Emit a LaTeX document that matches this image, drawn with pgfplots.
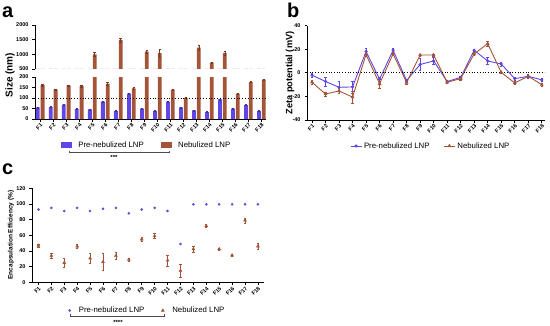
\documentclass[border=0pt]{standalone}
\usepackage{fontspec}
\setmainfont{Liberation Sans}
\usepackage{pgfplots}
\usepackage{pgfplotstable}
\pgfplotsset{compat=1.18}
\definecolor{pre}{RGB}{95,70,230}
\definecolor{neb}{RGB}{165,85,55}

\pgfplotstableread{
x pre pe neb ne
0 55 3 161 4
1 57 3 140 4
2 68 3 159 4
3 47 2 156 4
4 46 2 1000 70
5 83 3 167 6
6 39 2 1490 70
7 121 3 146 3
8 49 2 1090 50
9 39 2 1040 130
10 83 3 140 4
11 55 2 101 2
12 41 2 1230 80
13 33 2 715 30
14 93 3 1040 60
15 50 2 121 3
16 66 2 176 3
17 39 2 187 3
}\sizedata

\pgfplotstableread{
x pre pe neb ne
0 -2 1.5 -8 2
1 -7.4 4 -18 1.5
2 -12.3 5 -15.4 2
3 -12 5 -20.6 5
4 18 2.5 15.4 1.5
5 -5.4 1.5 -9.4 4
6 19 1.5 16 1.5
7 -6.6 1 -8.3 1.5
8 7 5 15 1
9 10 3 15 1
10 -7.4 1 -8 1
11 -4 1 -5 1
12 19 1 16 1
13 10 3 24.6 2
14 7.4 1.5 0.3 1
15 -5 1 -8.6 1
16 -3 2 -3 1
17 -6 1 -10 1.5
}\zetadata

\pgfplotstableread{
x pre neb ne
0 93 47 2
1 95 34 3
2 91 25 6
3 95 46 3
4 91 30.6 6
5 94 26 11
6 95 34 4
7 88 29 2
8 93 55 3
9 95 59 3
10 91 28 7
11 49 15 8
12 99.5 42.5 4
13 99.5 72 1.5
14 99.5 42.5 1.5
15 99.5 34.5 1.5
16 99.5 79 3
17 99.5 46 4
}\eedata

\pgfplotsset{
  gp/.style={
    scale only axis,
    anchor=south west,
    axis line style={black, line width=0.8pt},
    tick style={black, line width=0.7pt},
    tick align=outside,
    major tick length=2.5pt,
    /pgf/number format/assume math mode=true,
    /pgf/number format/1000 sep={},
    ticklabel style={font=\fontsize{5.5}{6}\selectfont\bfseries},
    yticklabel style={xshift=-0.5pt},
    xtick={0,...,17},
    xticklabels={F1,F2,F3,F4,F5,F6,F7,F8,F9,F10,F11,F12,F13,F14,F15,F16,F17,F18},
    xticklabel style={rotate=45, anchor=north east, inner sep=0.8pt},
    legend style={draw=none, fill=none, legend columns=2,
      font=\fontsize{7.8}{9}\selectfont},
    legend cell align=left,
  },
  ebar/.style={error bars/y dir=both, error bars/y explicit,
     error bars/error bar style={line width=0.5pt, #1},
     error bars/error mark options={rotate=90, mark size=1.2pt, line width=0.5pt, #1}},
  shortline/.style={legend image code/.code={\draw[mark repeat=2,mark phase=2,##1] plot coordinates {(0pt,0pt) (5.5pt,0pt) (11pt,0pt)};}},
  prebox/.style={legend image code/.code={\fill[pre] (0pt,-2.5pt) rectangle (10pt,2.5pt); \path (15pt,0pt);}},
  nebbox/.style={legend image code/.code={\fill[neb] (0pt,-2.5pt) rectangle (10pt,2.5pt); \path (15pt,0pt);}},
}

\begin{document}
\begin{tikzpicture}
\useasboundingbox (0,0) rectangle (550pt,325pt);

% ---------- panel a ----------
\node[font=\fontsize{20}{20}\selectfont\bfseries, anchor=base west, inner sep=0pt] at (2pt,308pt) {a};
% upper segment
\begin{axis}[gp, at={(35pt,256pt)}, width=231pt, height=44pt,
  xmin=-0.4, xmax=17.35, ymin=500, ymax=2000,
  ytick={500,1000,1500,2000},
  axis x line=none, axis y line*=left,
  ybar, bar width=3.8pt]
\addplot[forget plot, ybar, bar shift=-2.4pt, fill=pre, draw=none] table[x=x,y=pre] {\sizedata};
\addplot[forget plot, ybar, bar shift=2.4pt, fill=neb, draw=none, ebar=neb!70!black] table[x=x,y=neb,y error=ne] {\sizedata};
\end{axis}
% lower segment
\begin{axis}[gp, at={(35pt,206pt)}, width=231pt, height=42pt,
  xmin=-0.4, xmax=17.35, ymin=0, ymax=200,
  ytick={0,50,100,150,200},
  axis x line*=bottom, axis y line*=left,
  ybar, bar width=3.8pt,
  legend style={at={(0.483,-0.62)}, anchor=center,
    /tikz/every even column/.append style={column sep=15pt}}]
\addplot[forget plot, ybar, bar shift=-2.4pt, fill=pre, draw=none, ebar=pre!70!black] table[x=x,y=pre,y error=pe] {\sizedata};
\addplot[forget plot, ybar, bar shift=2.4pt, fill=neb, draw=none, ebar=neb!70!black] table[x=x,y=neb,y error=ne] {\sizedata};
\addplot[forget plot, black, dotted, line width=0.8pt, sharp plot] coordinates {(-0.4,100) (17.35,100)};
\addlegendimage{prebox}
\addlegendimage{nebbox}
\legend{Pre-nebulized LNP, Nebulized LNP}
\end{axis}
\node[rotate=90, font=\fontsize{10}{10}\selectfont\bfseries] at (10pt,250pt) {Size (nm)};
\draw[line width=0.5pt, black!70] (69pt,174.5pt) -- (69pt,172.3pt) -- (169pt,172.3pt) -- (169pt,174.5pt);
\node[font=\fontsize{6}{6}\selectfont\bfseries, inner sep=0pt] at (114pt,168pt) {***};

% ---------- panel b ----------
\node[font=\fontsize{20}{20}\selectfont\bfseries, anchor=base west, inner sep=0pt] at (287pt,308pt) {b};
\begin{axis}[gp, at={(307pt,205pt)}, width=238pt, height=94.5pt,
  xmin=-0.37, xmax=17.24, ymin=-40, ymax=40,
  ytick={-40,-20,0,20,40},
  axis x line*=bottom, axis y line*=left,
  legend style={at={(0.52,-0.275)}, anchor=center,
    /tikz/every even column/.append style={column sep=12pt}}]
\addplot[forget plot, pre, line width=0.9pt, mark=*, mark size=1.1pt, ebar=pre] table[x=x,y=pre,y error=pe] {\zetadata};
\addplot[forget plot, neb, line width=0.9pt, mark=triangle*, mark size=1.4pt, ebar=neb] table[x=x,y=neb,y error=ne] {\zetadata};
\addplot[forget plot, black, dotted, line width=0.7pt] coordinates {(-0.37,0) (17.24,0)};
\addlegendimage{pre, line width=0.9pt, mark=*, mark size=1.1pt, shortline}
\addlegendimage{neb, line width=0.9pt, mark=triangle*, mark size=1.4pt, shortline}
\legend{Pre-nebulized LNP, Nebulized LNP}
\end{axis}
\node[rotate=90, font=\fontsize{9.2}{9.2}\selectfont\bfseries] at (290pt,252pt) {Zeta potential (mV)};

% ---------- panel c ----------
\node[font=\fontsize{20}{20}\selectfont\bfseries, anchor=base west, inner sep=0pt] at (2pt,151pt) {c};
\begin{axis}[gp, at={(32pt,42.7pt)}, width=232pt, height=94pt,
  xmin=-0.5, xmax=17.47, ymin=0, ymax=120,
  ytick={0,20,40,60,80,100,120},
  axis x line*=bottom, axis y line*=left,
  legend style={at={(0.498,-0.30)}, anchor=center,
    /tikz/every odd column/.append style={column sep=6pt},
    /tikz/every even column/.append style={column sep=15pt}}]
\addplot[forget plot, pre, only marks, mark=*, mark size=1.1pt] table[x=x,y=pre] {\eedata};
\addplot[forget plot, neb, only marks, mark=triangle*, mark size=1.7pt, ebar=neb] table[x=x,y=neb,y error=ne] {\eedata};
\addlegendimage{pre, only marks, mark=*, mark size=1.1pt}
\addlegendimage{neb, only marks, mark=triangle*, mark size=1.7pt}
\legend{Pre-nebulized LNP, Nebulized LNP}
\end{axis}
\node[rotate=90, font=\fontsize{6.5}{7}\selectfont\bfseries] at (11pt,90pt) {Encapsulation Efficiency (\%)};
\draw[line width=0.5pt, black!70] (70.7pt,10.8pt) -- (70.7pt,8.7pt) -- (164pt,8.7pt) -- (164pt,10.8pt);
\node[font=\fontsize{6}{6}\selectfont\bfseries, inner sep=0pt] at (118pt,2.8pt) {****};
\end{tikzpicture}
\end{document}
